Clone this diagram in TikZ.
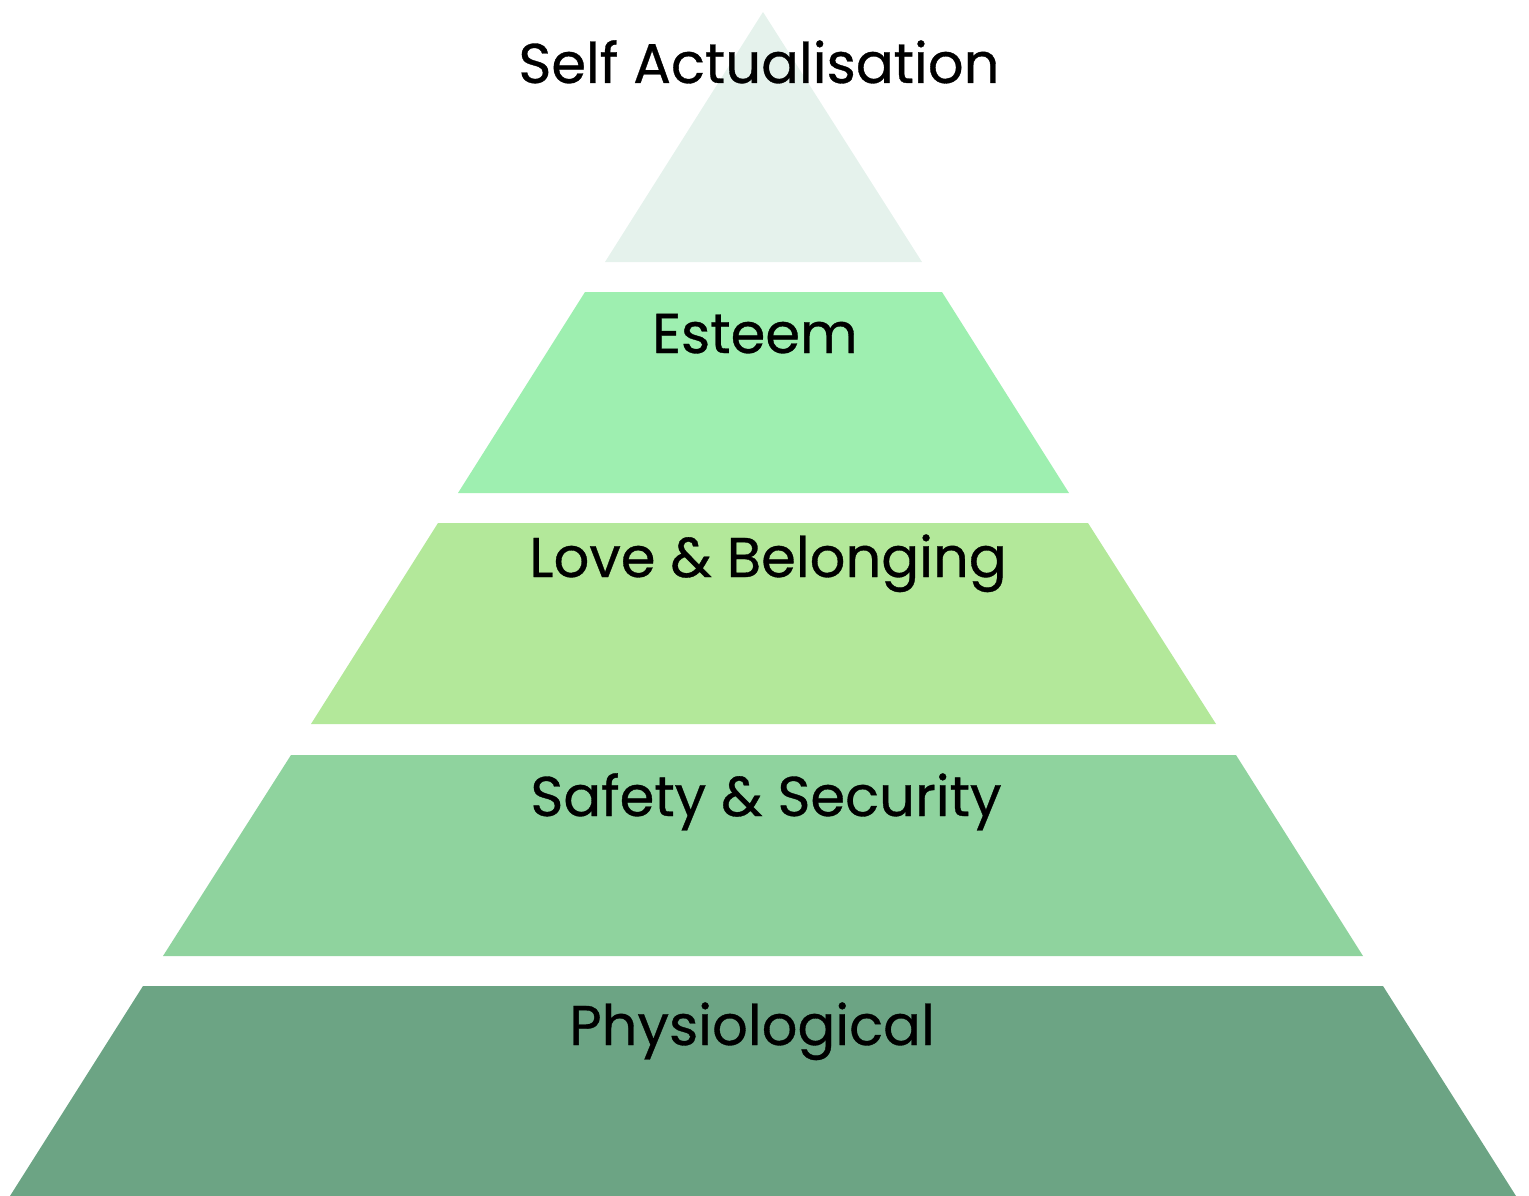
\documentclass[tikz,border=0pt]{standalone}
\usepackage{fontspec}
\setmainfont{Poppins}[FakeBold=0.6]
\usetikzlibrary{positioning}

\definecolor{tierA}{HTML}{E5F2EC}
\definecolor{tierB}{HTML}{9EEFB0}
\definecolor{tierC}{HTML}{B3E89A}
\definecolor{tierD}{HTML}{8FD39E}
\definecolor{tierE}{HTML}{6CA484}

\tikzset{
  label/.style={anchor=base, inner sep=0pt, font=\fontsize{56}{60}\selectfont}
}

\begin{document}
\begin{tikzpicture}[x=1pt, y=-1pt]
  \useasboundingbox (0,0) rectangle (1529,1196);

  % the five levels, top to bottom
  \fill[tierA] (763,12) -- (922,262) -- (605,262) -- cycle;
  \fill[tierB] (585,292) -- (942,292) -- (1069,493) -- (458,493) -- cycle;
  \fill[tierC] (438,523) -- (1088,523) -- (1216,724) -- (311,724) -- cycle;
  \fill[tierD] (291,755) -- (1236,755) -- (1363,956) -- (163,956) -- cycle;
  \fill[tierE] (143,986) -- (1383,986) -- (1516,1196) -- (10,1196) -- cycle;

  % level names
  \node[label] (self) at (759,83) {Self Actualisation};
  \node[label] (esteem) at (755,353) {Esteem};
  \node[label] (love) at (768,577) {Love \& Belonging};
  \node[label] (safety) at (766,816) {Safety \& Security};
  \node[label] (physio) at (752,1045) {Physiological};
\end{tikzpicture}
\end{document}
